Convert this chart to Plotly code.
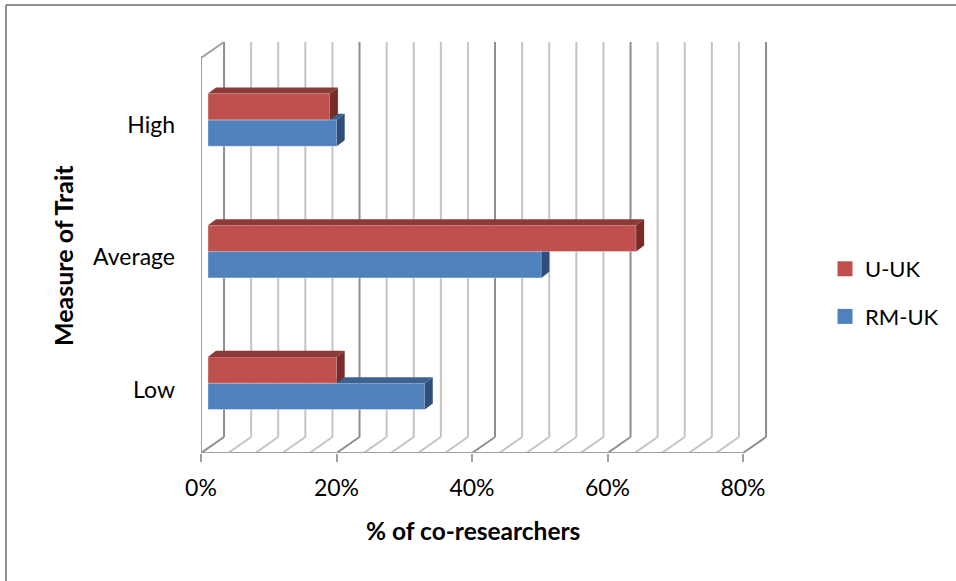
import plotly.graph_objects as go

# Survey results: share of co-researchers per trait level
categories = ["Low", "Average", "High"]
rm_uk = [32, 49.2, 19]
u_uk = [19, 63.2, 18]
x_ticks = [0, 20, 40, 60, 80]
x_tick_labels = ["0%", "20%", "40%", "60%", "80%"]
grid_step = 4

# Oblique projection parameters (axis units)
WALL_DX, WALL_DY = 3.4, 0.1215
PLANE_DX, PLANE_DY = 1.03, 0.03
DEPTH_DX, DEPTH_DY = 1.18, 0.046
BAR_H = 0.2

FONT = "Lato"
RED, RED_TOP, RED_SIDE = "#C0504D", "#8C3A38", "#772C2A"
BLUE, BLUE_TOP, BLUE_SIDE = "#4F81BD", "#3C6293", "#2F4F7A"
DARK, LIGHT, AXIS = "#8E8E8E", "#C4C4C4", "#A0A0A0"

# Plot area in page pixels
W, H = 956, 581
L, R, T, B = 201, 775, 30, 453
X_MAX = (R - L) / 6.775
Y_MAX = (B - T) / 131.67


def px(v):
    return (v - L) / (R - L)


def py(v):
    return (B - v) / (B - T)


fig = go.Figure()


def add_bar_series(name, values, color, top, side, offset, xa, ya):
    """Front face as a bar, with the top and end faces as filled polygons."""
    ys = [i + 0.5 + PLANE_DY + offset for i in range(len(values))]
    fig.add_trace(go.Bar(
        x=values, y=ys, base=PLANE_DX, orientation="h", width=BAR_H,
        marker=dict(color=color, line=dict(color="rgba(255,255,255,0.35)", width=1)),
        name=name, showlegend=False, xaxis=xa, yaxis=ya,
    ))
    for v, yc in zip(values, ys):
        x0, x1 = PLANE_DX, PLANE_DX + v
        y0, y1 = yc - BAR_H / 2, yc + BAR_H / 2
        faces = [
            ([x0, x1, x1 + DEPTH_DX, x0 + DEPTH_DX, x0],
             [y1, y1, y1 + DEPTH_DY, y1 + DEPTH_DY, y1], top),
            ([x1, x1 + DEPTH_DX, x1 + DEPTH_DX, x1, x1],
             [y0, y0 + DEPTH_DY, y1 + DEPTH_DY, y1, y0], side),
        ]
        for fx, fy, c in faces:
            fig.add_trace(go.Scatter(
                x=fx, y=fy, mode="lines", fill="toself", fillcolor=c,
                line=dict(width=0, color=c), hoverinfo="skip",
                showlegend=False, xaxis=xa, yaxis=ya,
            ))


add_bar_series("RM-UK", rm_uk, BLUE, BLUE_TOP, BLUE_SIDE, -BAR_H / 2, "x", "y")
add_bar_series("U-UK", u_uk, RED, RED_TOP, RED_SIDE, BAR_H / 2, "x2", "y2")

# Legend entries
for name, color in [("U-UK", RED), ("RM-UK", BLUE)]:
    fig.add_trace(go.Scatter(
        x=[None], y=[None], mode="markers", name=name, legendgroup=name,
        marker=dict(symbol="square", size=15, color=color),
    ))

shapes = []


def seg(x0, y0, x1, y1, color, width=2):
    shapes.append(dict(type="line", xref="x", yref="y", layer="below",
                       x0=x0, y0=y0, x1=x1, y1=y1,
                       line=dict(color=color, width=width)))


n_cat = len(categories)
for v in range(0, x_ticks[-1] + 1, grid_step):
    color = DARK if v % 20 == 0 else LIGHT
    seg(v + WALL_DX, WALL_DY, v + WALL_DX, n_cat + WALL_DY, color)
    seg(v, 0, v + WALL_DX, WALL_DY, DARK if v % 20 == 0 else LIGHT)

# Side wall and floor edge
seg(0, 0, 0, n_cat, AXIS)
seg(0, n_cat, WALL_DX, n_cat + WALL_DY, AXIS)
seg(0, 0, x_ticks[-1], 0, AXIS)

# Chart frame, drawn on the top and left only
frame = dict(color="#909090", width=2)
shapes.append(dict(type="line", xref="paper", yref="paper",
                   x0=px(6), x1=px(W), y0=py(5), y1=py(5), line=frame))
shapes.append(dict(type="line", xref="paper", yref="paper",
                   x0=px(6), x1=px(6), y0=py(5), y1=py(H), line=frame))

annotations = [
    dict(text="<b>% of co-researchers</b>", xref="paper", yref="paper",
         x=px(473), y=py(530), xanchor="center", yanchor="middle", showarrow=False,
         font=dict(family=FONT, size=24.5, color="#000")),
    dict(text="<b>Measure of Trait</b>", xref="paper", yref="paper", textangle=-90,
         x=px(63), y=py(256), xanchor="center", yanchor="middle", showarrow=False,
         font=dict(family=FONT, size=25, color="#000")),
]

hidden = dict(visible=False, fixedrange=True)
fig.update_layout(
    width=W, height=H, autosize=False,
    margin=dict(l=L, r=W - R, t=T, b=H - B, pad=0),
    paper_bgcolor="white", plot_bgcolor="rgba(0,0,0,0)",
    barmode="overlay", shapes=shapes, annotations=annotations,
    font=dict(family=FONT, size=23, color="#000"),
    xaxis=dict(range=[0, X_MAX], tickvals=x_ticks, ticktext=x_tick_labels,
               ticks="outside", ticklen=8, tickwidth=2, tickcolor=AXIS,
               ticklabelstandoff=6, showgrid=False, zeroline=False, showline=False),
    yaxis=dict(range=[0, Y_MAX], tickvals=[0.48, 1.49, 2.49], ticktext=categories,
               ticks="", ticklabelstandoff=25, showgrid=False, zeroline=False, showline=False),
    xaxis2=dict(range=[0, X_MAX], overlaying="x", **hidden),
    yaxis2=dict(range=[0, Y_MAX], overlaying="y", **hidden),
    legend=dict(x=px(825), y=py(248), xanchor="left", yanchor="top",
                bgcolor="rgba(0,0,0,0)", tracegroupgap=16, itemsizing="trace",
                itemwidth=30, font=dict(family=FONT, size=22)),
)

fig.write_html("out.html", config=dict(displayModeBar=False))
